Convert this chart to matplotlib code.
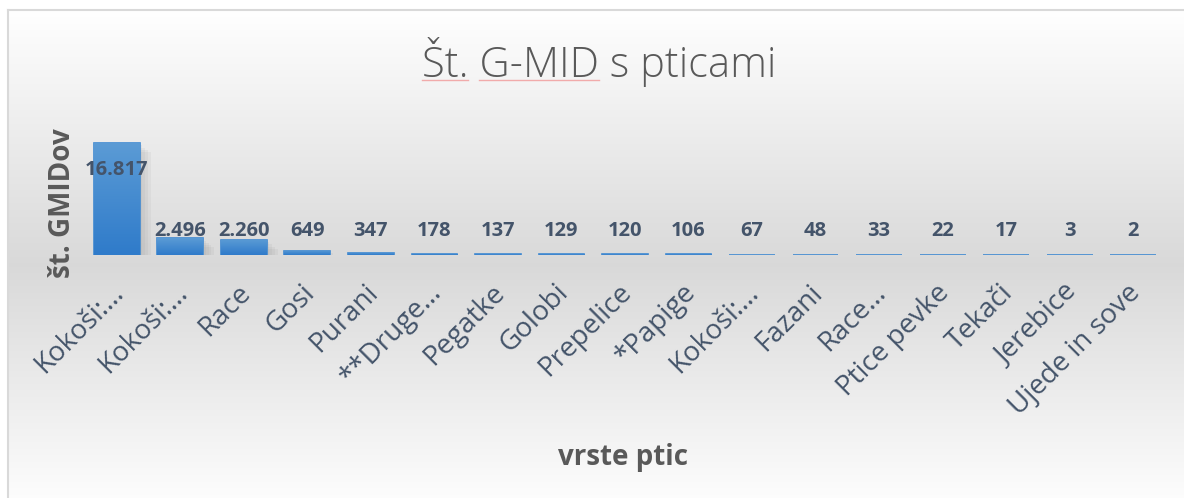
import numpy as np
import matplotlib
matplotlib.use("Agg")
import matplotlib.pyplot as plt
import matplotlib.patheffects as pe
from matplotlib.colors import LinearSegmentedColormap
from matplotlib.lines import Line2D
from matplotlib.transforms import ScaledTranslation

# -------------------------------
# Podatki
# -------------------------------
vrste = ["Kokoši:…", "Kokoši:…", "Race", "Gosi", "Purani", "**Druge…",
         "Pegatke", "Golobi", "Prepelice", "*Papige", "Kokoši:…", "Fazani",
         "Race…", "Ptice pevke", "Tekači", "Jerebice", "Ujede in sove"]
st_gmid = [16817, 2496, 2260, 649, 347, 178, 137, 129, 120, 106, 67, 48,
           33, 22, 17, 3, 2]

naslov = "Št. G-MID s pticami"
os_x = "vrste ptic"
os_y = "št. GMIDov"

SIVA = "#595959"
MODRA_TXT = "#44546a"
FONT = "Open Sans"

W, H = 1184, 498
fig = plt.figure(figsize=(W / 100, H / 100), dpi=100)

# ozadje: preliv belo -> sivo -> belo
bg = fig.add_axes([0, 0, 1, 1])
rows = np.arange(10, H + 1)
levels = np.interp(rows, [10, 265, H], [1.0, 0.85, 0.99])
grad_bg = np.repeat(levels[:, None, None], 3, axis=2)
bg.imshow(grad_bg, extent=[8, W, H, 10], aspect="auto", zorder=0)
bg.plot([8, 8], [H, 10], color="#d9d9d9", lw=1.5, zorder=1)
bg.plot([8, W], [10, 10], color="#d9d9d9", lw=1.5, zorder=1)
bg.set_xlim(0, W)
bg.set_ylim(H, 0)
bg.axis("off")

# -------------------------------
# Stolpci
# -------------------------------
ax = fig.add_axes([85 / W, (H - 255) / H, 1080 / W, 133 / H])
ax.set_facecolor("none")
for s in ax.spines.values():
    s.set_visible(False)

x = np.arange(len(vrste))
sirina = 0.72
senca = [pe.SimplePatchShadow(offset=(o, -o * 0.8), shadow_rgbFace="#7f7f7f", alpha=0.08)
         for o in (2, 4, 6, 8)]
bars = ax.bar(x, st_gmid, width=sirina, color="#4a8fd3", edgecolor="#3f89d1",
              linewidth=1.2, zorder=3, path_effects=senca + [pe.Normal()])

cmap = LinearSegmentedColormap.from_list("bar", ["#2f7bca", "#5b9bd5"])
grad = np.linspace(1, 0, 256).reshape(-1, 1)
for b, xi, v in zip(bars, x, st_gmid):
    im = ax.imshow(grad, extent=[xi - sirina / 2, xi + sirina / 2, 0, v],
                   aspect="auto", cmap=cmap, vmin=0, vmax=1, zorder=4)
    im.set_clip_path(b)

ax.set_xlim(-0.5, len(vrste) - 0.5)
ax.set_ylim(0, 20000)
ax.set_yticks([])

# oznake podatkov
for xi, v in zip(x, st_gmid):
    y_lab = v * 0.76 if v > 10000 else 3600
    ax.text(xi, y_lab, f"{v:,}".replace(",", "."), ha="center", va="center",
            fontsize=14.5, fontweight="bold", color=MODRA_TXT, family=FONT, zorder=6)

ax.set_xticks(x)
ax.set_xticklabels(vrste, rotation=45, ha="right", va="top", rotation_mode="anchor",
                   fontsize=20, color=MODRA_TXT, family=FONT)
ax.tick_params(axis="x", length=0, pad=17)
premik = ScaledTranslation(-7 / 100, 0, fig.dpi_scale_trans)
for lab in ax.get_xticklabels():
    lab.set_transform(lab.get_transform() + premik)

# -------------------------------
# Naslovi
# -------------------------------
title = fig.text(599 / W, 1 - 77 / H, naslov, ha="center", va="baseline",
                 fontsize=30, color=SIVA, family=FONT, fontweight="light")
fig.text(623 / W, 1 - 457 / H, os_x, ha="center", va="center",
         fontsize=20, fontweight="bold", color=SIVA, family=FONT)
fig.text(63 / W, 1 - 203 / H, os_y, ha="center", va="center", rotation=90,
         fontsize=20, fontweight="bold", color=SIVA, family=FONT)

# rdeča podčrtanost (črkovalnik) pod "Št." in "G-MID"
fig.canvas.draw()
r = fig.canvas.get_renderer()
x0 = title.get_window_extent(r).x0


def sirina_txt(s):
    t = fig.text(0, 0, s, fontproperties=title.get_fontproperties())
    w = t.get_window_extent(r).width
    t.remove()
    return w


y_line = (H - 80) / H
for a, b in [("", "Št."), ("Št. ", "Št. G-MID")]:
    xa = (x0 + sirina_txt(a)) / W if a else x0 / W
    xb = (x0 + sirina_txt(b)) / W
    fig.add_artist(Line2D([xa, xb], [y_line, y_line], color="#f08c8c",
                          lw=1.0, alpha=0.7, transform=fig.transFigure))

fig.savefig("out.png", dpi=100)
